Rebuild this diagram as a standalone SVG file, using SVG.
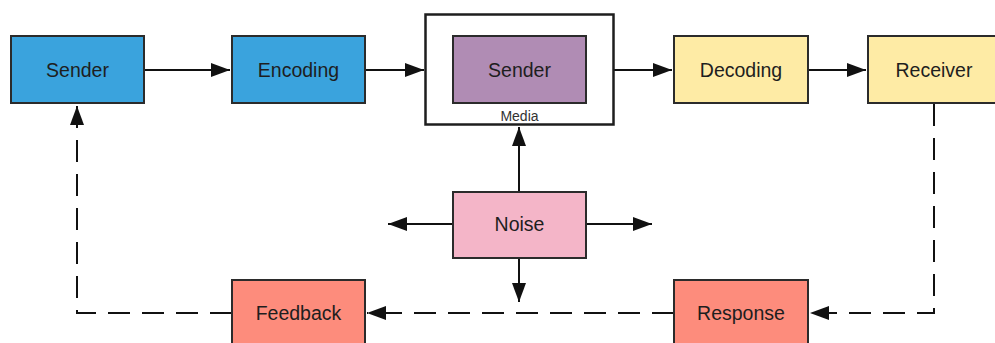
<svg xmlns="http://www.w3.org/2000/svg" width="995" height="343" viewBox="0 0 995 343">
<defs>
<style>
.box{stroke:#2b2b2b;stroke-width:2}
.lbl{font-family:"Liberation Sans",Arial,sans-serif;font-size:19.5px;fill:#1e1e1e;text-anchor:middle}
.small{font-family:"Liberation Sans",Arial,sans-serif;font-size:14px;fill:#333;text-anchor:middle}
.ln{stroke:#111;stroke-width:2;fill:none}
.dash{stroke:#111;stroke-width:2;fill:none;stroke-dasharray:22 12}
</style>
<marker id="ah" viewBox="0 0 19 14" refX="19" refY="7" markerWidth="19" markerHeight="14" markerUnits="userSpaceOnUse" orient="auto">
<path d="M0,0 L19,7 L0,14 Z" fill="#111"/>
</marker>
</defs>
<rect width="995" height="343" fill="#fff"/>
<g id="connectors">
<line class="ln" x1="144" y1="70" x2="230" y2="70" marker-end="url(#ah)"/>
<line class="ln" x1="365" y1="70" x2="424" y2="70" marker-end="url(#ah)"/>
<line class="ln" x1="614" y1="70" x2="672" y2="70" marker-end="url(#ah)"/>
<line class="ln" x1="808" y1="70" x2="866" y2="70" marker-end="url(#ah)"/>
<line class="ln" x1="519" y1="192" x2="519" y2="127" marker-end="url(#ah)"/>
<line class="ln" x1="453" y1="224" x2="388" y2="224" marker-end="url(#ah)"/>
<line class="ln" x1="586" y1="224" x2="652" y2="224" marker-end="url(#ah)"/>
<line class="ln" x1="519" y1="258" x2="519" y2="302" marker-end="url(#ah)"/>
<path class="dash" d="M934,104 L934,313 L810,313" marker-end="url(#ah)"/>
<path class="dash" d="M674,313 L367,313" marker-end="url(#ah)"/>
<path class="dash" d="M232,313 L77,313 L77,106" marker-end="url(#ah)"/>
</g>
<g id="sender">
<rect class="box" x="11" y="36" width="133" height="67" fill="#3aa3dd"/>
<text class="lbl" x="77.5" y="77">Sender</text>
</g>
<g id="encoding">
<rect class="box" x="232" y="36" width="133" height="67" fill="#3aa3dd"/>
<text class="lbl" x="298.5" y="77">Encoding</text>
</g>
<g id="media">
<rect x="425.5" y="14.5" width="188" height="110" fill="#fff" stroke="#1e1e1e" stroke-width="2.5"/>
<text class="small" x="519.5" y="121">Media</text>
</g>
<g id="media-sender">
<rect class="box" x="453" y="36" width="133" height="67" fill="#b08cb4"/>
<text class="lbl" x="519.5" y="77">Sender</text>
</g>
<g id="decoding">
<rect class="box" x="674" y="36" width="134" height="67" fill="#feeba5"/>
<text class="lbl" x="741" y="77">Decoding</text>
</g>
<g id="receiver">
<rect class="box" x="868" y="36" width="134" height="67" fill="#feeba5"/>
<text class="lbl" x="934" y="77">Receiver</text>
</g>
<g id="noise">
<rect class="box" x="453" y="192" width="133" height="66" fill="#f4b5c8"/>
<text class="lbl" x="519.5" y="231">Noise</text>
</g>
<g id="response">
<rect class="box" x="674" y="280" width="134" height="68" fill="#fd8c7c"/>
<text class="lbl" x="741" y="320">Response</text>
</g>
<g id="feedback">
<rect class="box" x="232" y="280" width="133" height="68" fill="#fd8c7c"/>
<text class="lbl" x="298.5" y="320">Feedback</text>
</g>
</svg>
